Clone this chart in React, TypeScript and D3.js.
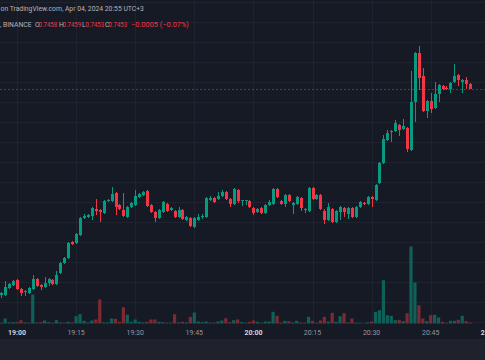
import React from "react";
import * as d3 from "d3";

// ---- DATA (1-minute candles, 18:56 → 20:55, Apr 04 2024, BINANCE) ----
const firstCandle = new Date(2024, 3, 4, 18, 56);

const opens = [
  0.7247, 0.7247, 0.7254, 0.7257, 0.7262, 0.7253, 0.7250, 0.7249, 0.7253, 0.7263,
  0.7257, 0.7255, 0.7259, 0.7262, 0.7258, 0.7269, 0.7279, 0.7284, 0.7300, 0.7299,
  0.7307, 0.7324, 0.7325, 0.7326, 0.7333, 0.7332, 0.7329, 0.7341, 0.7341, 0.7349,
  0.7337, 0.7332, 0.7325, 0.7335, 0.7337, 0.7345, 0.7347, 0.7351, 0.7337, 0.7330,
  0.7324, 0.7330, 0.7338, 0.7332, 0.7331, 0.7325, 0.7332, 0.7322, 0.7324, 0.7315,
  0.7322, 0.7325, 0.7325, 0.7342, 0.7344, 0.7343, 0.7346, 0.7350, 0.7343, 0.7338,
  0.7352, 0.7341, 0.7341, 0.7341, 0.7334, 0.7330, 0.7334, 0.7329, 0.7337, 0.7338,
  0.7353, 0.7341, 0.7338, 0.7347, 0.7337, 0.7338, 0.7344, 0.7332, 0.7331, 0.7354,
  0.7343, 0.7347, 0.7331, 0.7322, 0.7333, 0.7320, 0.7330, 0.7334, 0.7328, 0.7334,
  0.7325, 0.7335, 0.7339, 0.7338, 0.7345, 0.7342, 0.7359, 0.7379, 0.7402, 0.7410,
  0.7411, 0.7417, 0.7413, 0.7414, 0.7392, 0.7440, 0.7489, 0.7466, 0.7431, 0.7441,
  0.7434, 0.7448, 0.7456, 0.7454, 0.7453, 0.7460, 0.7467, 0.7460, 0.7462, 0.7458,
];
const highs = [
  0.7250, 0.7261, 0.7259, 0.7262, 0.7263, 0.7254, 0.7252, 0.7255, 0.7267, 0.7264,
  0.7258, 0.7265, 0.7264, 0.7263, 0.7271, 0.7280, 0.7285, 0.7300, 0.7301, 0.7309,
  0.7325, 0.7328, 0.7328, 0.7335, 0.7343, 0.7333, 0.7342, 0.7343, 0.7355, 0.7350,
  0.7338, 0.7349, 0.7336, 0.7340, 0.7352, 0.7349, 0.7351, 0.7352, 0.7338, 0.7331,
  0.7333, 0.7341, 0.7339, 0.7335, 0.7332, 0.7335, 0.7333, 0.7326, 0.7325, 0.7325,
  0.7328, 0.7328, 0.7345, 0.7346, 0.7345, 0.7350, 0.7352, 0.7351, 0.7344, 0.7354,
  0.7353, 0.7342, 0.7342, 0.7342, 0.7335, 0.7334, 0.7335, 0.7338, 0.7342, 0.7354,
  0.7354, 0.7342, 0.7348, 0.7348, 0.7340, 0.7346, 0.7345, 0.7334, 0.7355, 0.7355,
  0.7348, 0.7348, 0.7333, 0.7339, 0.7334, 0.7332, 0.7336, 0.7335, 0.7335, 0.7335,
  0.7336, 0.7341, 0.7340, 0.7346, 0.7346, 0.7358, 0.7380, 0.7407, 0.7412, 0.7412,
  0.7422, 0.7418, 0.7423, 0.7415, 0.7471, 0.7490, 0.7496, 0.7474, 0.7442, 0.7449,
  0.7460, 0.7458, 0.7457, 0.7456, 0.7460, 0.7478, 0.7468, 0.7463, 0.7465, 0.7459,
];
const lows = [
  0.7244, 0.7246, 0.7253, 0.7256, 0.7252, 0.7246, 0.7246, 0.7248, 0.7252, 0.7255,
  0.7252, 0.7254, 0.7256, 0.7257, 0.7257, 0.7268, 0.7278, 0.7283, 0.7297, 0.7298,
  0.7306, 0.7323, 0.7324, 0.7322, 0.7327, 0.7320, 0.7328, 0.7340, 0.7340, 0.7327,
  0.7332, 0.7325, 0.7324, 0.7334, 0.7336, 0.7344, 0.7346, 0.7335, 0.7329, 0.7320,
  0.7323, 0.7329, 0.7330, 0.7331, 0.7324, 0.7324, 0.7322, 0.7321, 0.7315, 0.7314,
  0.7321, 0.7323, 0.7324, 0.7341, 0.7339, 0.7342, 0.7345, 0.7342, 0.7335, 0.7337,
  0.7339, 0.7336, 0.7337, 0.7334, 0.7327, 0.7329, 0.7328, 0.7328, 0.7336, 0.7337,
  0.7344, 0.7337, 0.7335, 0.7340, 0.7328, 0.7337, 0.7331, 0.7329, 0.7330, 0.7342,
  0.7342, 0.7332, 0.7318, 0.7321, 0.7319, 0.7319, 0.7322, 0.7325, 0.7323, 0.7324,
  0.7324, 0.7334, 0.7337, 0.7337, 0.7335, 0.7341, 0.7358, 0.7378, 0.7401, 0.7400,
  0.7410, 0.7406, 0.7412, 0.7390, 0.7391, 0.7420, 0.7452, 0.7430, 0.7424, 0.7429,
  0.7433, 0.7440, 0.7452, 0.7452, 0.7449, 0.7459, 0.7456, 0.7449, 0.7453, 0.7453,
];
const closes = [
  0.7249, 0.7255, 0.7258, 0.7261, 0.7253, 0.7249, 0.7251, 0.7254, 0.7263, 0.7256,
  0.7255, 0.7259, 0.7263, 0.7258, 0.7267, 0.7279, 0.7284, 0.7299, 0.7298, 0.7308,
  0.7324, 0.7326, 0.7327, 0.7334, 0.7331, 0.7330, 0.7341, 0.7342, 0.7348, 0.7335,
  0.7333, 0.7326, 0.7335, 0.7339, 0.7346, 0.7348, 0.7350, 0.7336, 0.7330, 0.7324,
  0.7332, 0.7340, 0.7331, 0.7334, 0.7325, 0.7332, 0.7323, 0.7325, 0.7316, 0.7324,
  0.7325, 0.7326, 0.7344, 0.7344, 0.7340, 0.7346, 0.7350, 0.7343, 0.7338, 0.7353,
  0.7341, 0.7342, 0.7342, 0.7335, 0.7329, 0.7333, 0.7329, 0.7337, 0.7340, 0.7353,
  0.7345, 0.7338, 0.7347, 0.7341, 0.7339, 0.7345, 0.7334, 0.7333, 0.7354, 0.7343,
  0.7347, 0.7333, 0.7322, 0.7335, 0.7320, 0.7331, 0.7335, 0.7330, 0.7334, 0.7325,
  0.7335, 0.7340, 0.7338, 0.7345, 0.7343, 0.7357, 0.7379, 0.7403, 0.7409, 0.7411,
  0.7419, 0.7412, 0.7416, 0.7393, 0.7440, 0.7489, 0.7464, 0.7431, 0.7441, 0.7433,
  0.7448, 0.7457, 0.7453, 0.7453, 0.7459, 0.7466, 0.7462, 0.7462, 0.7458, 0.7453,
];
// volume, thousands
const volumes = [
  0.7, 5, 1, 1.3, 1.3, 3.3, 1, 0.7, 29, 1,
  1.3, 3, 1.3, 0.7, 3.3, 1, 0.7, 1.7, 1, 7.3,
  9.3, 2.7, 1, 3, 4, 24, 1, 1, 5, 4.7,
  1.7, 16.3, 8.7, 1.7, 4, 1.7, 1, 1.7, 4, 4,
  1.7, 1.3, 0.7, 0.7, 9.3, 1, 1.7, 1, 6.7, 11,
  2, 1.3, 2, 0.7, 1, 2, 3, 5.3, 1.3, 3.3,
  4, 1.3, 0.7, 1.7, 3, 1.7, 0.7, 2, 2, 11.7,
  7.7, 1, 2.7, 2.3, 1, 2.7, 1, 0.7, 6.7, 2.7,
  0.7, 3, 6.7, 2, 10.7, 1.7, 7.3, 10.3, 1, 5,
  0.7, 0.7, 0.3, 1, 2, 11.7, 13.3, 43.3, 8.3, 7.7,
  3.3, 3.7, 2.3, 10.3, 77, 41, 18.3, 5, 2.3, 8.3,
  8.7, 6, 1.7, 0.7, 2.7, 2.7, 3.7, 7.7, 2.3, 1,
];
const timeTickLabels = ["19:00", "19:15", "19:30", "19:45", "20:00", "20:15", "20:30", "20:45", "21:00"];
const headerLine1 = "on TradingView.com, Apr 04, 2024 20:55 UTC+3";
const exchange = ", BINANCE";

// ---- LAYOUT ----
const W = 485;
const H = 360;
const UP = "#089981";
const DOWN = "#F23645";
const UP_VOL = "#10605a";
const DOWN_VOL = "#7e2a33";
const BG = "#161a25";
const FOOT = "#1f222c";
const GRID = "#1f2330";
const FONT = "Roboto, 'Trebuchet MS', sans-serif";

const times = d3.timeMinute.range(firstCandle, d3.timeMinute.offset(firstCandle, opens.length));
const parseTick = (s: string) => {
  const [h, m] = s.split(":").map(Number);
  return new Date(2024, 3, 4, h, m);
};
const tickDates = timeTickLabels.map(parseTick);

const x = d3.scaleTime().domain([tickDates[0], tickDates[tickDates.length - 1]]).range([17, 489.8]);
const y = d3.scaleLinear().domain([0.7202, 0.7542]).range([340, 0]);
const v = d3.scaleLinear().domain([0, 100]).range([323.5, 223.5]);
const gridPrices = d3.range(0.722, 0.7545, 0.002);

const fmt4 = d3.format(".4f");
const fmtPct = d3.format(".2f");

export default function App() {
  const n = opens.length;
  const lastO = opens[n - 1], lastH = highs[n - 1], lastL = lows[n - 1], lastC = closes[n - 1];
  const chg = lastC - closes[n - 2];
  const pct = (chg / closes[n - 2]) * 100;
  const sign = (z: number) => (z < 0 ? "\u2212" : "+");
  const chgText = `${sign(chg)}${fmt4(Math.abs(chg))} (${sign(pct)}${fmtPct(Math.abs(pct))}%)`;
  const lastColor = lastC >= lastO ? UP : DOWN;
  const ohlc: [string, number, number][] = [
    ["O", lastO, 35],
    ["H", lastH, 59],
    ["L", lastL, 82],
    ["C", lastC, 105],
  ];

  return (
    <div style={{ position: "fixed", left: 0, top: 0, width: W, height: H }}>
      <svg width={W} height={H} style={{ display: "block" }}>
        <rect x={0} y={0} width={W} height={H} fill={BG} />
        <rect x={0} y={339} width={W} height={H - 339} fill={FOOT} />
        {/* grid */}
        <g>
          {gridPrices.map((p, i) => (
            <line key={"h" + i} x1={0} x2={W} y1={Math.round(y(p)) + 0.5} y2={Math.round(y(p)) + 0.5} stroke={GRID} strokeWidth={1} />
          ))}
          {tickDates.map((d, i) => (
            <line key={"v" + i} x1={Math.round(x(d)) + 0.5} x2={Math.round(x(d)) + 0.5} y1={0} y2={324} stroke={GRID} strokeWidth={1} />
          ))}
        </g>
        {/* volume */}
        <g>
          {times.map((t, i) => {
            const cx = x(t);
            const up = closes[i] >= opens[i];
            return (
              <rect key={"vol" + i} x={cx - 1.6} width={3.2} y={v(volumes[i])} height={v(0) - v(volumes[i])} fill={up ? UP_VOL : DOWN_VOL} />
            );
          })}
        </g>
        {/* price line */}
        <line x1={0} x2={W} y1={Math.round(y(lastC)) + 0.5} y2={Math.round(y(lastC)) + 0.5} stroke={lastColor} strokeOpacity={0.5} strokeDasharray="2,2" />
        {/* candles */}
        <g>
          {times.map((t, i) => {
            const cx = Math.round(x(t));
            const up = closes[i] >= opens[i];
            const col = up ? UP : DOWN;
            const top = y(Math.max(opens[i], closes[i]));
            const bot = y(Math.min(opens[i], closes[i]));
            return (
              <g key={"c" + i}>
                <line x1={cx + 0.5} x2={cx + 0.5} y1={y(highs[i])} y2={y(lows[i])} stroke={col} strokeWidth={1} />
                <rect x={cx - 1} width={3} y={top} height={Math.max(1, bot - top)} fill={col} />
              </g>
            );
          })}
        </g>
        {/* time axis labels */}
        <g fontFamily={FONT} fontSize={7} textAnchor="middle">
          {tickDates.map((d, i) => {
            const major = d.getMinutes() === 0;
            return (
              <text key={"t" + i} x={x(d)} y={334.5} fill={major ? "#d1d4dc" : "#9598a1"} fontWeight={major ? "bold" : "normal"}>
                {timeTickLabels[i]}
              </text>
            );
          })}
        </g>
        {/* header */}
        <g fontFamily={FONT} fontSize={6.8}>
          <text x={0.5} y={10.5} fill="#b2b5be">{headerLine1}</text>
          <text x={0} y={26.5} fill="#b2b5be">{exchange}</text>
          {ohlc.map(([lab, val, px]) => (
            <g key={lab}>
              <text x={px} y={26.5} fill="#b2b5be">{lab}</text>
              <text x={px + 3.6} y={26.5} fill={lastColor} textLength={18.5} lengthAdjust="spacingAndGlyphs">{fmt4(val)}</text>
            </g>
          ))}
          <text x={131} y={26.5} fill={lastColor} fontSize={7.4}>{chgText}</text>
        </g>
      </svg>
    </div>
  );
}
